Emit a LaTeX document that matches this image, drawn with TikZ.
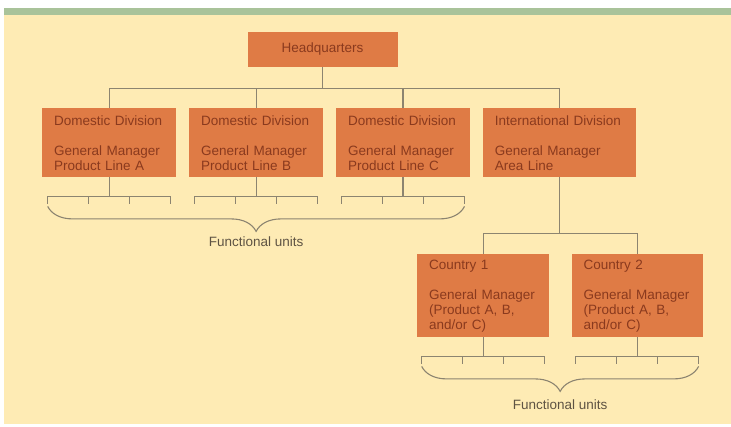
\documentclass[tikz,border=0pt]{standalone}
\usepackage{fontspec}
\setmainfont{Liberation Sans}
\usepackage{xcolor}
\usetikzlibrary{positioning,calc,decorations.pathreplacing}
\definecolor{ChartOrange}{HTML}{DF7B45}
\definecolor{ChartText}{HTML}{8A3A1E}
\definecolor{ChartCream}{HTML}{FEEBB4}
\definecolor{ChartGreen}{HTML}{A9C39A}
\definecolor{ChartLine}{HTML}{8C8470}
\definecolor{ChartLabel}{HTML}{5E5343}

\begin{document}
\begin{tikzpicture}[
    x=1pt, y=-1pt,
    node distance=12.5pt and 12.5pt,
    hqbox/.style={fill=ChartOrange, text=ChartText, align=center,
      minimum width=150pt, minimum height=35pt, font=\fontsize{13.5}{15}\selectfont},
    unit/.style={fill=ChartOrange, text=ChartText, align=left, inner xsep=12pt,
      inner ysep=2pt, minimum height=69pt, font=\fontsize{13.5}{15}\selectfont},
    units/.style={text=ChartLabel, font=\fontsize{13.5}{15}\selectfont},
    link/.style={draw=ChartLine, line width=1.1pt},
    brace/.style={draw=ChartLine, line width=1.1pt, decorate,
      decoration={brace, mirror, amplitude=25pt}}
  ]
    \useasboundingbox[fill=white] (0,0) rectangle (731,426);
    \fill[ChartCream] (4,15) rectangle (731,424);
    \fill[ChartGreen] (4,8) rectangle (731,15);

    \node[hqbox] (hq) at (322.5,49.5) {Headquarters};
    \node[unit, text width=110pt, anchor=north west] (domA) at (42,108) {Domestic Division\\[15pt]General Manager\\Product Line A};
    \node[unit, text width=110pt, right=of domA] (domB) {Domestic Division\\[15pt]General Manager\\Product Line B};
    \node[unit, text width=110pt, right=of domB] (domC) {Domestic Division\\[15pt]General Manager\\Product Line C};
    \node[unit, text width=129pt, right=of domC] (intl) {International Division\\[15pt]General Manager\\Area Line};
    \node[unit, text width=108pt, minimum height=83pt, anchor=north west] (cty1) at (417,254) {Country 1\\[15pt]General Manager\\(Product A, B,\\and/or C)};
    \node[unit, text width=107pt, minimum height=83pt, right=22pt of cty1] (cty2) {Country 2\\[15pt]General Manager\\(Product A, B,\\and/or C)};

    \draw[link] (hq.south) -- ++(0,21) coordinate (hqbus);
    \foreach \d in {domA,domB,domC,intl}
      \draw[link] (hqbus) -| (\d.north);
    \draw[link] (intl.south) -- ++(0,56) coordinate (intlbus);
    \foreach \d in {cty1,cty2}
      \draw[link] (intlbus) -| (\d.north);

    \foreach \n in {domA,domB,domC,cty1,cty2} {
      \draw[link] (\n.south) -- ++(0,19) coordinate (\n-bar);
      \draw[link] ([xshift=-61.5pt]\n-bar) -- ([xshift=61.5pt]\n-bar);
      \foreach \dx in {-61.5,-20.5,20.5,61.5}
        \draw[link] ([xshift=\dx pt]\n-bar) -- ++(0,8);
    }

    \draw[brace] ([xshift=-61.5pt,yshift=-10pt]domA-bar) -- node[units, yshift=-35pt] (unitsA) {Functional units} ([xshift=61.5pt,yshift=-10pt]domC-bar);
    \draw[brace] ([xshift=-61.5pt,yshift=-10pt]cty1-bar) -- node[units, yshift=-38pt] (unitsB) {Functional units} ([xshift=61.5pt,yshift=-10pt]cty2-bar);
  \end{tikzpicture}
\end{document}
